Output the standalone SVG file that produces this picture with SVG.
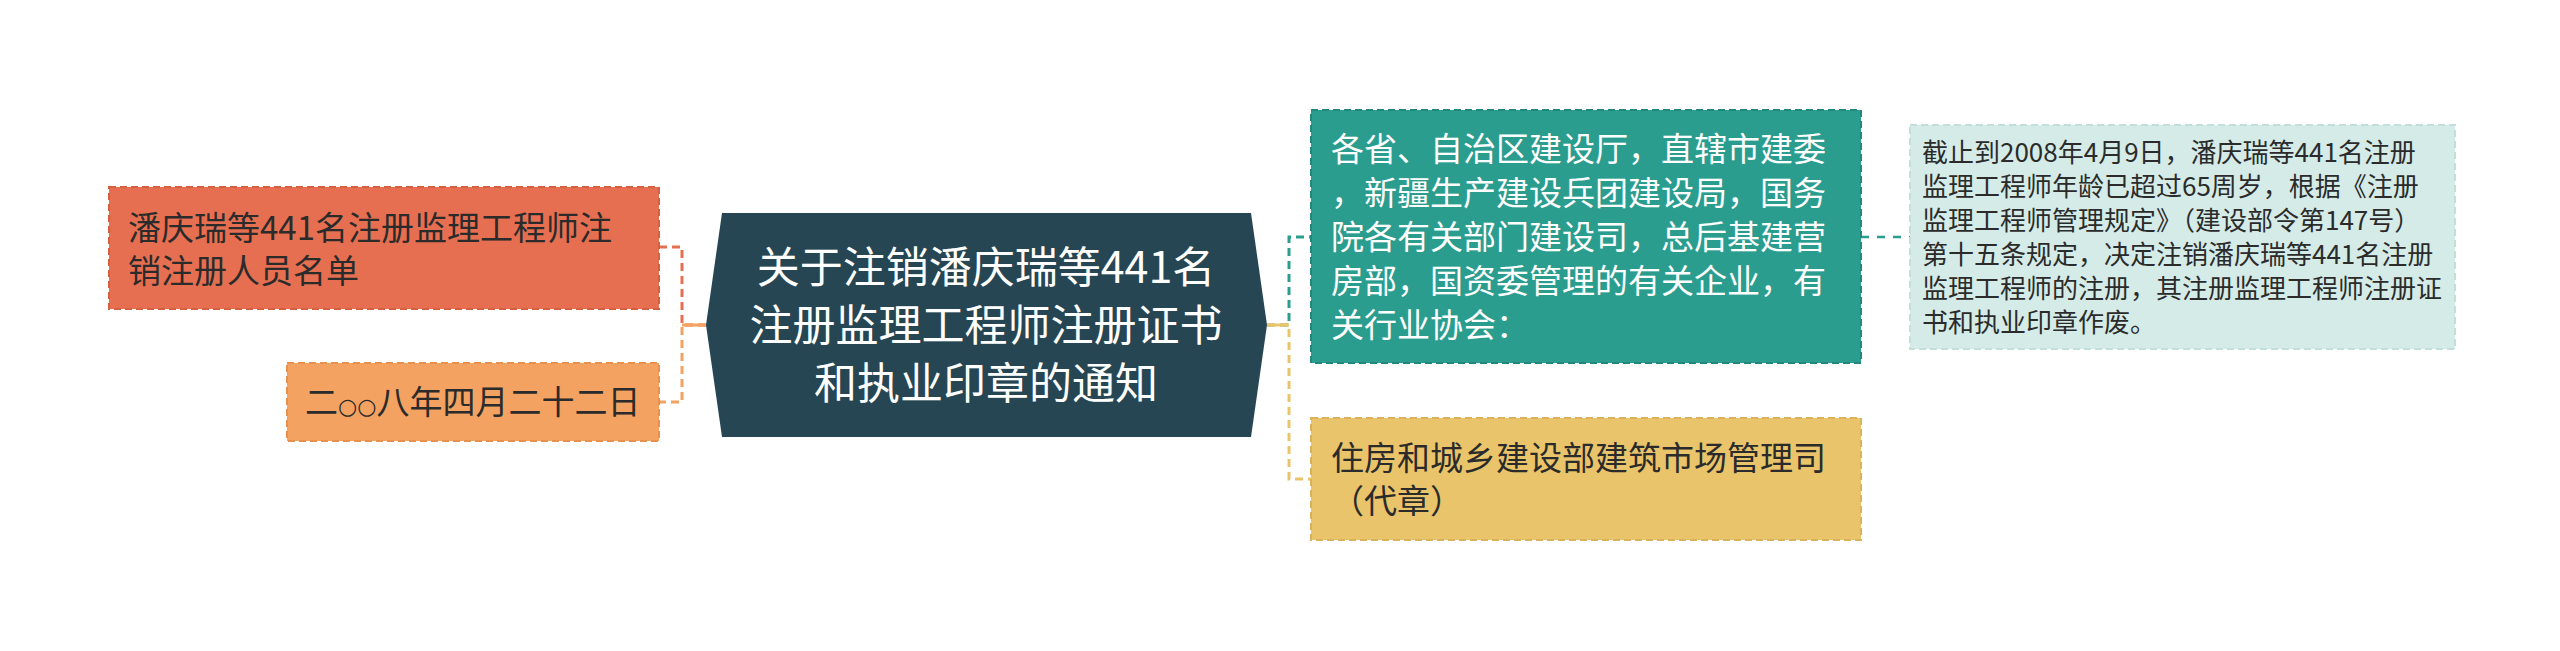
<svg xmlns="http://www.w3.org/2000/svg" width="2560" height="651" viewBox="0 0 2560 651">
<style>
text{font-family:"Noto Sans CJK SC","Noto Sans",sans-serif}
.t33{font-size:33px;fill:#2b2b2b}
.w33{font-size:33px;fill:#ffffff}
.t26{font-size:26px;fill:#2b2b2b}
.c43{font-size:43px;fill:#ffffff}
.conn{fill:none;stroke-width:3;stroke-dasharray:8 5}
.nb{stroke-width:2;stroke-dasharray:7 4}
</style>
<rect width="2560" height="651" fill="#ffffff"/>
<g id="connectors">
<path class="conn" d="M706,325 H682 V247 H659" stroke="#E76F51"/>
<path class="conn" d="M706,325 H682 V402 H659" stroke="#F4A261"/>
<path d="M682,325 H706" stroke="#F4A261" stroke-width="3"/>
<path class="conn" d="M1267,325 H1289 V237 H1311" stroke="#2A9D8F"/>
<path class="conn" d="M1267,325 H1289 V479 H1311" stroke="#E9C46A"/>
<path d="M1267,325 H1289" stroke="#E9C46A" stroke-width="3"/>
<path d="M1861,237 H1910" fill="none" stroke="#2A9D8F" stroke-width="2.5" stroke-dasharray="8 8"/>
</g>
<g id="node-center">
<polygon points="722,213 1251,213 1267,325 1251,437 722,437 706,325" fill="#264653"/>
<text class="c43" text-anchor="middle"><tspan x="986" y="283">关于注销潘庆瑞等441名</tspan><tspan x="986" y="341">注册监理工程师注册证书</tspan><tspan x="986" y="399">和执业印章的通知</tspan></text>
</g>
<g id="node-list">
<rect class="nb" x="109" y="187" width="550" height="122" fill="#E76F51" stroke="#d4603f"/>
<text class="t33"><tspan x="128" y="240">潘庆瑞等441名注册监理工程师注</tspan><tspan x="128" y="283">销注册人员名单</tspan></text>
</g>
<g id="node-date">
<rect class="nb" x="287" y="363" width="372" height="78" fill="#F4A261" stroke="#e8914f"/>
<text class="t33" x="305" y="414">二<tspan style="font-family:'DejaVu Sans',sans-serif;font-size:22px">○○</tspan>八年四月二十二日</text>
</g>
<g id="node-recipients">
<rect class="nb" x="1311" y="110" width="550" height="253" fill="#2A9D8F" stroke="#23887c"/>
<text class="w33"><tspan x="1331" y="161">各省、自治区建设厅，直辖市建委</tspan><tspan x="1331" y="205">，新疆生产建设兵团建设局，国务</tspan><tspan x="1331" y="249">院各有关部门建设司，总后基建营</tspan><tspan x="1331" y="293">房部，国资委管理的有关企业，有</tspan><tspan x="1331" y="337">关行业协会：</tspan></text>
</g>
<g id="node-detail">
<rect class="nb" x="1910" y="125" width="545" height="224" fill="#D5EBE8" stroke="#c2dfdb"/>
<text class="t26"><tspan x="1922" y="162">截止到2008年4月9日，潘庆瑞等441名注册</tspan><tspan x="1922" y="196">监理工程师年龄已超过65周岁，根据《注册</tspan><tspan x="1922" y="230">监理工程师管理规定》（建设部令第147号）</tspan><tspan x="1922" y="264">第十五条规定，决定注销潘庆瑞等441名注册</tspan><tspan x="1922" y="298">监理工程师的注册，其注册监理工程师注册证</tspan><tspan x="1922" y="332">书和执业印章作废。</tspan></text>
</g>
<g id="node-issuer">
<rect class="nb" x="1311" y="418" width="550" height="122" fill="#E9C46A" stroke="#d9b25a"/>
<text class="t33"><tspan x="1331" y="470">住房和城乡建设部建筑市场管理司</tspan><tspan x="1331" y="513">（代章）</tspan></text>
</g>
</svg>
